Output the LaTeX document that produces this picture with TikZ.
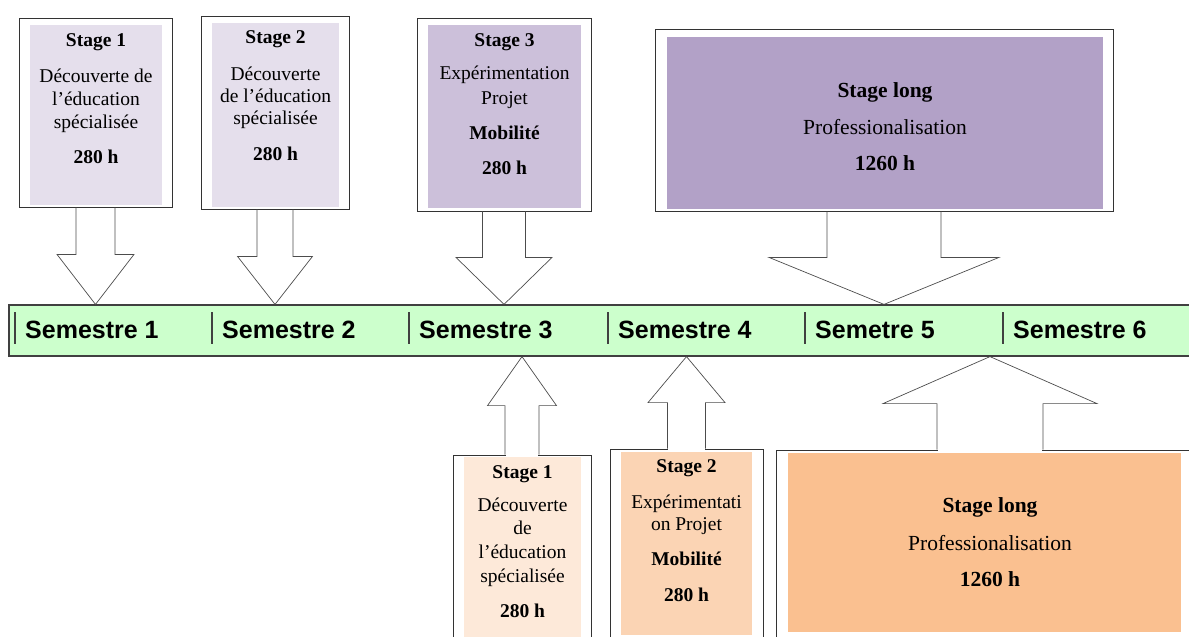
\documentclass[tikz,border=0pt]{standalone}
\usepackage{fontspec}
\setmainfont{Liberation Serif}
\newfontfamily\semfont{Liberation Sans}
\usetikzlibrary{calc,positioning}

\definecolor{lavlight}{HTML}{E5DFEC}
\definecolor{lavmid}{HTML}{CCC0DA}
\definecolor{lavdark}{HTML}{B2A1C7}
\definecolor{barfill}{HTML}{CCFFCC}
\definecolor{peachlight}{HTML}{FDE9D9}
\definecolor{peachmid}{HTML}{FBD4B4}
\definecolor{peachdark}{HTML}{FAC090}

\begin{document}
\begin{tikzpicture}[x=1pt,y=-1pt,
    outerbox/.style={draw=black!80,line width=0.8pt,inner sep=0pt},
    innerbox/.style={inner sep=0pt},
    boxtext/.style={align=center,inner sep=0pt,font=\fontsize{19.5}{23}\selectfont},
    bigtext/.style={align=center,inner sep=0pt,font=\fontsize{21.5}{25}\selectfont},
    blockarrow/.style={draw=black!70,line width=0.7pt,line join=miter},
    semlabel/.style={anchor=base west,inner sep=0pt,font=\semfont\bfseries\fontsize{25}{30}\selectfont}]

    \useasboundingbox (0,0) rectangle (1189,637);

    % stages of the first row
    \node[outerbox,minimum width=153,minimum height=189] (boxA) at (95.5,112.5) {};
    \node[innerbox,fill=lavlight,minimum width=132,minimum height=180] (fillA) at (96,115) {};
    \node[boxtext,below=8.5pt of fillA.north] (txtA)
        {\textbf{Stage 1}\\[13pt] Découverte de\\ l’éducation\\ spécialisée\\[12pt] \textbf{280 h}};

    \node[outerbox,minimum width=148,minimum height=193] (boxB) at (275,112.5) {};
    \node[innerbox,fill=lavlight,minimum width=127,minimum height=184] (fillB) at (275.5,115) {};
    \node[boxtext,below=7.5pt of fillB.north] (txtB)
        {\textbf{Stage 2}\\[14pt] Découverte\\[-1pt] de l’éducation\\[-1pt] spécialisée\\[13pt] \textbf{280 h}};

    \node[outerbox,minimum width=174,minimum height=193] (boxC) at (504,114.5) {};
    \node[innerbox,fill=lavmid,minimum width=153,minimum height=183] (fillC) at (504.5,116.5) {};
    \node[boxtext,below=8.5pt of fillC.north] (txtC)
        {\textbf{Stage 3}\\[10pt] Expérimentation\\[2pt] Projet\\[12pt] \textbf{Mobilité}\\[12pt] \textbf{280 h}};

    \node[outerbox,minimum width=458,minimum height=182] (boxD) at (884,120) {};
    \node[innerbox,fill=lavdark,minimum width=436,minimum height=172] (fillD) at (885,123) {};
    \node[bigtext,below=45.5pt of fillD.north] (txtD)
        {\textbf{Stage long}\\[12pt] Professionalisation\\[11pt] \textbf{1260 h}};

    % semesters
    \node[draw=black!75,line width=1.2pt,fill=barfill,inner sep=0pt,
          minimum width=1191,minimum height=51] (bar) at (604.5,330.5) {};
    \foreach \x/\t [count=\i] in {15/Semestre 1,212/Semestre 2,409/Semestre 3,
                                  608/Semestre 4,805/Semetre 5,1003/Semestre 6} {
        \draw[black!75,line width=1.2pt] (\x,312) -- (\x,344);
        \node[semlabel] (sem\i) at (\x+10,338) {\t};
    }

    % stages of the second row
    \node[outerbox,minimum width=138,minimum height=205] (boxE) at (522,557.5) {};
    \node[innerbox,fill=peachlight,minimum width=117,minimum height=203] (fillE) at (522.5,558.5) {};
    \node[boxtext,below=8.5pt of fillE.north] (txtE)
        {\textbf{Stage 1}\\[10pt] Découverte\\ de\\[1.5pt] l’éducation\\[1pt] spécialisée\\[12pt] \textbf{280 h}};

    \node[outerbox,minimum width=153,minimum height=211] (boxF) at (686.5,554.5) {};
    \node[innerbox,fill=peachmid,minimum width=131,minimum height=183] (fillF) at (686.5,543.5) {};
    \node[boxtext,below=7.5pt of fillF.north] (txtF)
        {\textbf{Stage 2}\\[13pt] Expérimentati\\[-1pt] on Projet\\[12pt] \textbf{Mobilité}\\[13pt] \textbf{280 h}};

    \node[outerbox,minimum width=428,minimum height=210] (boxG) at (990,555) {};
    \node[innerbox,fill=peachdark,minimum width=393,minimum height=179] (fillG) at (984.5,542.5) {};
    \node[bigtext,anchor=north] (txtG) at ($(fillG.north)+(5.5,44.5)$)
        {\textbf{Stage long}\\[13pt] Professionalisation\\[11pt] \textbf{1260 h}};

    % block arrows down to the bar
    \foreach \b/\s/\h/\l in {boxA/19.5/38.5/50,boxB/18/37.5/48,boxC/21.5/48/47,boxD/57/115/47} {
        \draw[blockarrow] ($(\b.south)+(-\s,0)$) -- ($(\b.south |- bar.north)+(-\s,-\l)$)
            -- ($(\b.south |- bar.north)+(-\h,-\l)$) -- (\b.south |- bar.north)
            -- ($(\b.south |- bar.north)+(\h,-\l)$) -- ($(\b.south |- bar.north)+(\s,-\l)$)
            -- ($(\b.south)+(\s,0)$);
    }

    % block arrows up to the bar
    \foreach \b/\s/\h/\l in {boxE/17/34.5/49,boxF/19/38.5/46,boxG/53/107/47} {
        \fill[white] ($(\b.north)+(-\s+0.6,1.5)$) rectangle ($(\b.north)+(\s-0.6,-1.5)$);
        \draw[blockarrow] ($(\b.north)+(-\s,0)$) -- ($(\b.north |- bar.south)+(-\s,\l)$)
            -- ($(\b.north |- bar.south)+(-\h,\l)$) -- (\b.north |- bar.south)
            -- ($(\b.north |- bar.south)+(\h,\l)$) -- ($(\b.north |- bar.south)+(\s,\l)$)
            -- ($(\b.north)+(\s,0)$);
    }

\end{tikzpicture}
\end{document}
